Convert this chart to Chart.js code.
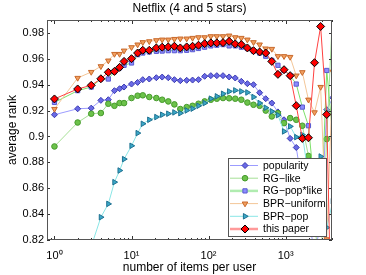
<!DOCTYPE html>
<html><head><meta charset="utf-8">
<script src="https://cdn.jsdelivr.net/npm/chart.js@4.4.1/dist/chart.umd.min.js"></script>
<style>html,body{margin:0;padding:0;background:#fff;}canvas{display:block;}</style>
</head><body>
<canvas id="c" width="366" height="275"></canvas>
<script>
const itemsPerUser = [1,2,3,4,5,6,7,8,10,12,14,17,21,25,30,36,43,52,62,74,89,107,128,154,185,222,266,319,383,460,552,662,795,954,1145,1374,1648,1978,2373,2848,3418,4100];
const popularity = [0.9168,0.9214,0.9219,0.9279,0.9284,0.9354,0.9369,0.9382,0.9405,0.9418,0.9439,0.9444,0.9454,0.9459,0.9454,0.9439,0.9431,0.9434,0.9436,0.9439,0.9465,0.9470,0.9470,0.9470,0.9460,0.9452,0.9426,0.9408,0.9400,0.9338,0.9292,0.9258,0.9190,0.9129,0.8985,0.8915,0.862,0.835,0.812,0.830,0.9207,0.93];
const rgLike = [0.8923,0.9108,0.9176,0.9181,0.9253,0.9237,0.9258,0.9258,0.9297,0.9315,0.9318,0.9305,0.9297,0.9284,0.9271,0.9248,0.9212,0.9227,0.9237,0.9253,0.9271,0.9284,0.9292,0.9297,0.9295,0.9292,0.9284,0.9262,0.9245,0.9237,0.9200,0.9155,0.9180,0.9103,0.9142,0.9129,0.9083,0.885,0.83,0.80,0.898,1.00];
const rgPopLike = [0.9263,0.9354,0.9382,0.9444,0.9444,0.9500,0.9530,0.9550,0.9568,0.9632,0.9645,0.9653,0.9658,0.9660,0.9663,0.9663,0.9663,0.9666,0.9671,0.9680,0.9690,0.9700,0.9705,0.9710,0.9700,0.9700,0.9690,0.9680,0.9660,0.9645,0.9620,0.9588,0.9550,0.9510,0.9470,0.9405,0.9227,0.9083,0.86,0.83,0.951,0.90];
const bprUniform = [0.9212,0.9452,0.9498,0.9542,0.9586,0.9637,0.9637,0.9663,0.9689,0.9710,0.9728,0.9735,0.9743,0.9748,0.9748,0.9753,0.9756,0.9756,0.9761,0.9766,0.9766,0.9774,0.9774,0.9774,0.9779,0.9766,0.9761,0.9748,0.9728,0.9710,0.9679,0.9676,0.9620,0.9620,0.9614,0.9470,0.9496,0.9284,0.9186,0.9382,0.8205,0.95];
const bprPop = [0.73,0.78,0.815,0.8376,0.8479,0.8647,0.8737,0.8825,0.8928,0.9026,0.9098,0.9129,0.9150,0.9168,0.9176,0.9186,0.9180,0.9201,0.9215,0.9237,0.9258,0.9292,0.9310,0.9330,0.9348,0.9356,0.9348,0.9340,0.9305,0.9258,0.9222,0.9194,0.9165,0.9039,0.9078,0.8995,0.9013,0.87,0.86,0.8845,0.8296,0.85];
const thisPaper = [0.9290,0.9367,0.9395,0.9446,0.9496,0.9503,0.9534,0.9580,0.9601,0.9645,0.9666,0.9666,0.9684,0.9690,0.9692,0.9697,0.9684,0.9692,0.9697,0.9705,0.9717,0.9723,0.9723,0.9725,0.9735,0.9715,0.9710,0.9684,0.9663,0.9653,0.9645,0.9580,0.9480,0.9516,0.9470,0.9238,0.8985,0.8990,0.9570,0.9850,0.9170,0.70];

const seriesNames = ['popularity','RG\u2212like','RG\u2212pop*like','BPR\u2212uniform','BPR\u2212pop','this paper'];
const xTickValues = [1,10,100,1000];
const xTickLabels = ['10\u2070','10\u00b9','10\u00b2','10\u00b3'];
const yTickValues = [0.82,0.84,0.86,0.88,0.90,0.92,0.94,0.96,0.98];

const FONT = '"Liberation Sans", Arial, Helvetica, sans-serif';
const styles = [
  {line:'#9c9cff', fill:'#6a6ae6', edge:'#3a3ab0', shape:'rectRot', r:3, rot:0, lw:1, legW:1, legC:'#9c9cff'},
  {line:'#a6e096', fill:'#6cc24a', edge:'#469a2c', shape:'circle', r:2.8, rot:0, lw:1, legW:1, legC:'#a6e096'},
  {line:'#7ee06a', fill:'#8c8cff', edge:'#5a5ad0', shape:'rect', r:3, rot:0, lw:1, legW:2.5, legC:'#b0ecb0'},
  {line:'#f3c698', fill:'#f2a060', edge:'#c8682a', shape:'triangle', r:3.2, rot:180, lw:1, legW:1, legC:'#f3c698'},
  {line:'#8ae6e6', fill:'#3aa8c8', edge:'#1e7090', shape:'triangle', r:3.2, rot:90, lw:1, legW:1, legC:'#8ae6e6'},
  {line:'#ff4040', fill:'#ff0000', edge:'#000000', shape:'rectRot', r:4, rot:0, lw:1, legW:2.5, legC:'#ff9a9a'}
];
const allSeries = [popularity, rgLike, rgPopLike, bprUniform, bprPop, thisPaper];

const datasets = allSeries.map((s, k) => ({
  label: seriesNames[k],
  data: itemsPerUser.map((x, i) => ({x: x, y: s[i]})),
  borderColor: styles[k].line,
  backgroundColor: styles[k].fill,
  borderWidth: styles[k].lw,
  pointStyle: styles[k].shape,
  pointRadius: styles[k].r,
  pointRotation: styles[k].rot,
  pointBackgroundColor: styles[k].fill,
  pointBorderColor: styles[k].edge,
  pointBorderWidth: 1,
  tension: 0,
  order: 6 - k
}));

function drawMarker(ctx, st, x, y) {
  if (Chart.helpers && Chart.helpers.drawPoint) {
    ctx.save();
    ctx.fillStyle = st.fill; ctx.strokeStyle = st.edge; ctx.lineWidth = 1;
    Chart.helpers.drawPoint(ctx, {pointStyle: st.shape, radius: st.r, rotation: st.rot, borderWidth: 1}, x, y);
    ctx.restore();
  }
}

const framePlugin = {
  id: 'frame',
  afterDatasetsDraw(chart) {
    const {ctx, chartArea: a, scales} = chart;
    const x = scales.x, y = scales.y;
    ctx.save();
    ctx.strokeStyle = '#333';
    ctx.lineWidth = 1;
    ctx.beginPath();
    for (let e = -1; e < 4; e++) {
      for (let m = 1; m < 10; m++) {
        const v = m * Math.pow(10, e);
        if (v < x.min || v > x.max) continue;
        const px = Math.round(x.getPixelForValue(v)) + 0.5;
        const len = m === 1 ? 4 : 2;
        ctx.moveTo(px, a.bottom); ctx.lineTo(px, a.bottom - len);
        ctx.moveTo(px, a.top); ctx.lineTo(px, a.top + len);
      }
    }
    for (const v of yTickValues) {
      const py = Math.round(y.getPixelForValue(v)) + 0.5;
      ctx.moveTo(a.left, py); ctx.lineTo(a.left + 3, py);
      ctx.moveTo(a.right, py); ctx.lineTo(a.right - 3, py);
    }
    ctx.stroke();
    ctx.strokeStyle = '#555';
    ctx.strokeRect(Math.round(a.left) + 0.5, Math.round(a.top) + 0.5, Math.round(a.right - a.left) - 1, Math.round(a.bottom - a.top) - 1);
    ctx.restore();
  }
};

const legendPlugin = {
  id: 'boxLegend',
  afterDraw(chart) {
    const ctx = chart.ctx;
    const L = 228, T = 158, W = 99, H = 79;
    ctx.save();
    ctx.fillStyle = '#fff';
    ctx.fillRect(L, T, W, H);
    ctx.strokeStyle = '#555';
    ctx.lineWidth = 1;
    ctx.strokeRect(L + 0.5, T + 0.5, W - 1, H - 1);
    ctx.font = '10.5px ' + FONT;
    ctx.textBaseline = 'middle';
    for (let k = 0; k < seriesNames.length; k++) {
      const yy = T + 7.5 + k * 12.7;
      const st = styles[k];
      ctx.strokeStyle = st.legC; ctx.lineWidth = st.legW;
      ctx.beginPath(); ctx.moveTo(L + 2, yy); ctx.lineTo(L + 30, yy); ctx.stroke();
      drawMarker(ctx, st, L + 17, yy);
      ctx.fillStyle = '#000';
      ctx.fillText(seriesNames[k], L + 35, yy + 0.5);
    }
    ctx.restore();
  }
};

new Chart(document.getElementById('c'), {
  type: 'line',
  data: {datasets: datasets},
  plugins: [framePlugin, legendPlugin],
  options: {
    responsive: false, animation: false, devicePixelRatio: 1,
    layout: {padding: {left: 0, right: 34, top: 0, bottom: 0}},
    plugins: {
      legend: {display: false}, tooltip: {enabled: false},
      title: {display: true, text: 'Netflix (4 and 5 stars)', fullSize: false, color: '#000',
        font: {family: FONT, size: 12, weight: 'normal'}, padding: {top: 1, bottom: 4.6}}
    },
    scales: {
      x: {
        type: 'logarithmic', min: 0.8, max: 4000,
        grid: {display: false, drawTicks: false}, border: {display: false},
        afterFit: s => { s.height = 35; },
        afterBuildTicks: s => { s.ticks = xTickValues.map(v => ({value: v, major: true})); },
        ticks: {autoSkip: false, maxRotation: 0, minRotation: 0, padding: 9, color: '#000',
          font: {family: FONT, size: 11},
          callback: (v, i) => xTickLabels[i]},
        title: {display: true, text: 'number of items per user', color: '#000',
          font: {family: FONT, size: 12}, padding: {top: 0, bottom: 0.5}}
      },
      y: {
        type: 'linear', min: 0.82, max: 0.99,
        grid: {display: false, drawTicks: false}, border: {display: false},
        afterFit: s => { s.width = 47; },
        afterBuildTicks: s => { s.ticks = yTickValues.map(v => ({value: v})); },
        ticks: {autoSkip: false, padding: 3, color: '#000', font: {family: FONT, size: 11},
          callback: v => String(+Number(v).toFixed(2))},
        title: {display: true, text: 'average rank', color: '#000',
          font: {family: FONT, size: 12}, padding: {top: 5, bottom: 0}}
      }
    }
  }
});
</script>
</body></html>
